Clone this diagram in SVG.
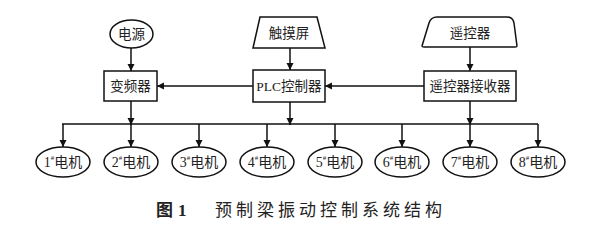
<svg xmlns="http://www.w3.org/2000/svg" width="600" height="228" viewBox="0 0 600 228">
<style>
.s{fill:#fff;stroke:#111;stroke-width:1.5}
.t{font-family:"Liberation Serif","Noto Sans CJK SC",serif;font-size:13.5px;fill:#222;text-anchor:middle;dominant-baseline:central}
.m{font-size:14px}
.c{stroke:#111;stroke-width:1.5;fill:none}
.cap{font-family:"Noto Sans CJK SC",sans-serif;font-size:17px;fill:#222}
</style>
<defs>
<marker id="a" markerUnits="userSpaceOnUse" markerWidth="8" markerHeight="8" refX="7" refY="3.5" orient="auto"><path d="M0,0 L7,3.5 L0,7 z" fill="#111"/></marker>
</defs>
<rect width="600" height="228" fill="#fff"/>
<g id="connectors">
<line class="c" x1="131" y1="48" x2="131" y2="71" marker-end="url(#a)"/>
<line class="c" x1="290" y1="48" x2="290" y2="70" marker-end="url(#a)"/>
<line class="c" x1="470" y1="47" x2="470" y2="71" marker-end="url(#a)"/>
<line class="c" x1="424" y1="86" x2="325" y2="86" marker-end="url(#a)"/>
<line class="c" x1="253" y1="86" x2="157" y2="86" marker-end="url(#a)"/>
<line class="c" x1="131" y1="101" x2="131" y2="125" marker-end="url(#a)"/>
<line class="c" x1="290" y1="102" x2="290" y2="125" marker-end="url(#a)"/>
<line class="c" x1="470" y1="101" x2="470" y2="125" marker-end="url(#a)"/>
<line class="c" x1="62" y1="124" x2="538" y2="124"/>
<line class="c" x1="63" y1="124" x2="63" y2="147" marker-end="url(#a)"/>
<line class="c" x1="131" y1="124" x2="131" y2="147" marker-end="url(#a)"/>
<line class="c" x1="199" y1="124" x2="199" y2="147" marker-end="url(#a)"/>
<line class="c" x1="267" y1="124" x2="267" y2="147" marker-end="url(#a)"/>
<line class="c" x1="335" y1="124" x2="335" y2="147" marker-end="url(#a)"/>
<line class="c" x1="402" y1="124" x2="402" y2="147" marker-end="url(#a)"/>
<line class="c" x1="470" y1="124" x2="470" y2="147" marker-end="url(#a)"/>
<line class="c" x1="538" y1="124" x2="538" y2="147" marker-end="url(#a)"/>
</g>
<g id="power"><ellipse class="s" cx="131.5" cy="34" rx="21.5" ry="14"/><text class="t" x="131.5" y="34">电源</text></g>
<g id="touch"><path class="s" d="M260,17 L317,17 L325,48 L253,48 Z"/><text class="t" x="289" y="33">触摸屏</text></g>
<g id="remote"><path class="s" d="M422,46 L429,23 Q431,17 437,17 L507,17 Q513,17 514,23 L517,46 Q517,47 515,47 L424,47 Q422,47 422,46 Z"/><text class="t" x="470" y="33">遥控器</text></g>
<g id="inverter"><rect class="s" x="104" y="71" width="53" height="30"/><text class="t" x="130.5" y="86">变频器</text></g>
<g id="plc"><rect class="s" x="253" y="70" width="72" height="32"/><text class="t" x="289" y="86">PLC控制器</text></g>
<g id="receiver"><rect class="s" x="424" y="71" width="92" height="30"/><text class="t" x="470" y="86">遥控器接收器</text></g>
<g id="m1"><ellipse class="s" cx="63" cy="162" rx="27" ry="15"/><text class="t m" x="63" y="162">1<tspan font-size="7" dy="-4">#</tspan><tspan dy="4">电机</tspan></text></g>
<g id="m2"><ellipse class="s" cx="131" cy="162" rx="27" ry="15"/><text class="t m" x="131" y="162">2<tspan font-size="7" dy="-4">#</tspan><tspan dy="4">电机</tspan></text></g>
<g id="m3"><ellipse class="s" cx="199" cy="162" rx="27" ry="15"/><text class="t m" x="199" y="162">3<tspan font-size="7" dy="-4">#</tspan><tspan dy="4">电机</tspan></text></g>
<g id="m4"><ellipse class="s" cx="267" cy="162" rx="27" ry="15"/><text class="t m" x="267" y="162">4<tspan font-size="7" dy="-4">#</tspan><tspan dy="4">电机</tspan></text></g>
<g id="m5"><ellipse class="s" cx="335" cy="162" rx="27" ry="15"/><text class="t m" x="335" y="162">5<tspan font-size="7" dy="-4">#</tspan><tspan dy="4">电机</tspan></text></g>
<g id="m6"><ellipse class="s" cx="402" cy="162" rx="27" ry="15"/><text class="t m" x="402" y="162">6<tspan font-size="7" dy="-4">#</tspan><tspan dy="4">电机</tspan></text></g>
<g id="m7"><ellipse class="s" cx="470" cy="162" rx="27" ry="15"/><text class="t m" x="470" y="162">7<tspan font-size="7" dy="-4">#</tspan><tspan dy="4">电机</tspan></text></g>
<g id="m8"><ellipse class="s" cx="538" cy="162" rx="27" ry="15"/><text class="t m" x="538" y="162">8<tspan font-size="7" dy="-4">#</tspan><tspan dy="4">电机</tspan></text></g>
<g id="caption">
<text class="cap" x="156" y="216" font-weight="700">图<tspan font-family="Liberation Serif" dx="5">1</tspan></text>
<text class="cap" x="215" y="216" letter-spacing="4">预制梁振动控制系统结构</text>
</g>
</svg>
